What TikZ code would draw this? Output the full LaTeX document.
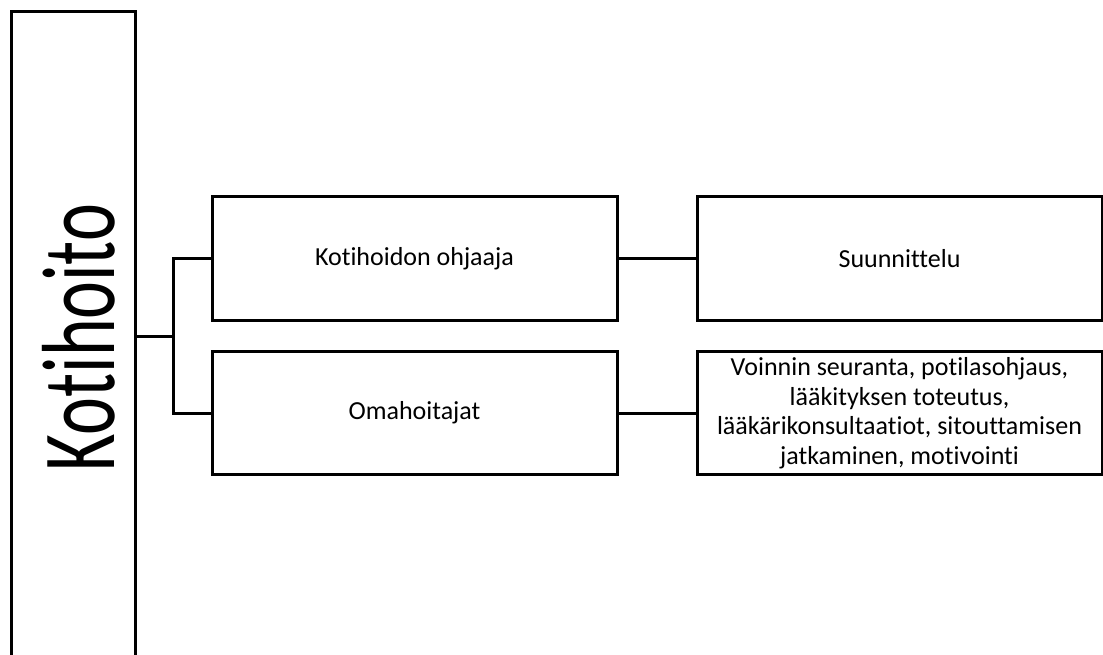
\documentclass[tikz,border=0pt]{standalone}
\usepackage{fontspec}
\setmainfont[Ligatures={NoCommon}]{Carlito}
\begin{document}
\begin{tikzpicture}[x=1pt,y=-1pt,
  box/.style={draw=black,line width=3pt,rectangle,minimum width=405pt,minimum height=123pt,inner sep=2pt,align=center,font=\fontsize{26}{29.5}\selectfont},
  conn/.style={draw=black,line width=3pt}]
\useasboundingbox (0,0) rectangle (1103,655);
\clip (0,0) rectangle (1103,655);
\node[draw=black,line width=3pt,rectangle,minimum width=123.5pt,minimum height=651pt,inner sep=0pt] (root) at (73.25,337.5) {};
\node[rotate=90,anchor=base,inner sep=0pt] (roottext) at (114,337.5) {\scalebox{0.69}[1]{\fontsize{104}{104}\selectfont Kotihoito}};
\node[box] (k1) at (414.5,258.5) {Kotihoidon ohjaaja};
\node[box] (k2) at (414.5,413) {Omahoitajat};
\node[box] (s1) at (899.5,258.5) {Suunnittelu};
\node[box] (s2) at (899.5,413) {Voinnin seuranta, potilasohjaus,\\lääkityksen toteutus,\\lääkärikonsultaatiot, sitouttamisen\\jatkaminen, motivointi};
\coordinate (j) at (173,336);
\draw[conn] (root.east |- j) -- (j);
\draw[conn] (k1.west) -- (k1.west -| j) -- (k2.west -| j) -- (k2.west);
\draw[conn] (k1.east) -- (s1.west);
\draw[conn] (k2.east) -- (s2.west);
\end{tikzpicture}
\end{document}
